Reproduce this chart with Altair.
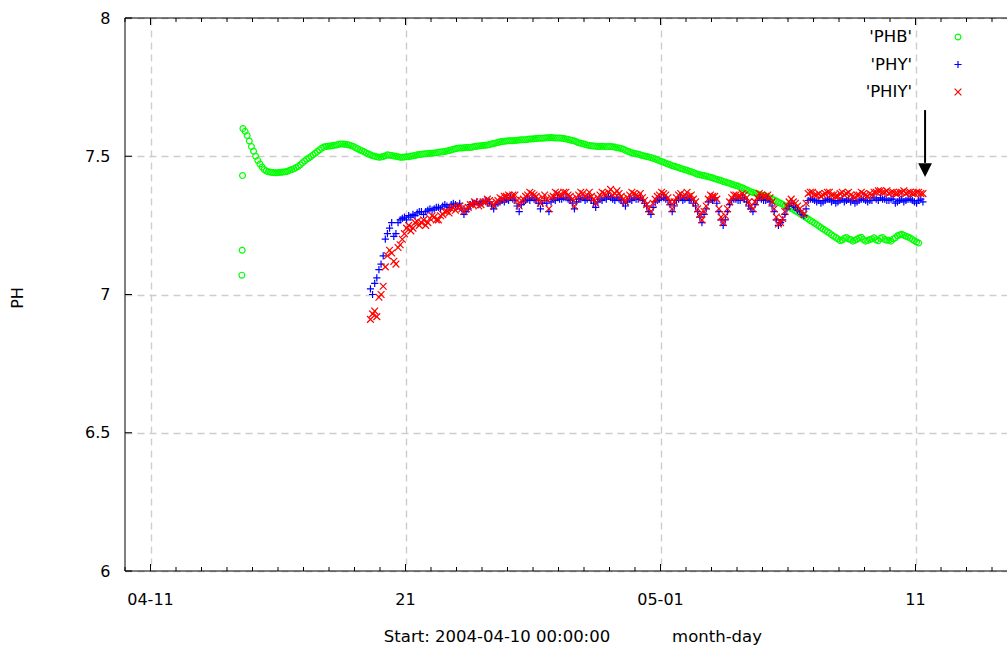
import altair as alt
import pandas as pd

# ---------------- data ----------------
START = pd.Timestamp("2004-04-10 00:00:00")

# PHB start-up readings (hours after START, pH)
phb_start_hours = [110.0, 110.3, 110.6]
phb_start_values = [7.07, 7.16, 7.43]

# PHB regular readings: first reading hour and spacing (hours)
PHB_FIRST_HOUR = 111
PHB_STEP = 2
phb_values = [
    7.60, 7.59, 7.575, 7.555, 7.535, 7.518, 7.50, 7.485, 7.472, 7.461,
    7.452, 7.447, 7.444, 7.442, 7.441, 7.440, 7.440, 7.441, 7.442, 7.443,
    7.444, 7.446, 7.449, 7.452, 7.455, 7.459, 7.463, 7.469, 7.476, 7.483,
    7.489, 7.494, 7.499, 7.505, 7.511, 7.517, 7.523, 7.529, 7.533, 7.535,
    7.536, 7.537, 7.538, 7.540, 7.541, 7.543, 7.544, 7.544, 7.543, 7.542,
    7.541, 7.538, 7.535, 7.531, 7.527, 7.523, 7.520, 7.516, 7.512, 7.508,
    7.505, 7.502, 7.500, 7.498, 7.496, 7.497, 7.499, 7.502, 7.505, 7.504,
    7.503, 7.501, 7.500, 7.498, 7.496, 7.496, 7.497, 7.498, 7.498, 7.500,
    7.502, 7.503, 7.505, 7.506, 7.507, 7.508, 7.509, 7.510, 7.511, 7.511,
    7.512, 7.513, 7.514, 7.515, 7.516, 7.517, 7.519, 7.521, 7.523, 7.525,
    7.527, 7.529, 7.530, 7.530, 7.531, 7.532, 7.532, 7.532, 7.533, 7.535,
    7.536, 7.537, 7.538, 7.539, 7.540, 7.541, 7.542, 7.544, 7.546, 7.548,
    7.550, 7.552, 7.553, 7.554, 7.555, 7.556, 7.556, 7.556, 7.557, 7.558,
    7.559, 7.560, 7.560, 7.560, 7.561, 7.562, 7.562, 7.563, 7.564, 7.565,
    7.565, 7.565, 7.566, 7.567, 7.567, 7.568, 7.567, 7.566, 7.566, 7.566,
    7.565, 7.564, 7.562, 7.561, 7.559, 7.557, 7.555, 7.552, 7.549, 7.547,
    7.545, 7.543, 7.541, 7.539, 7.538, 7.537, 7.536, 7.535, 7.535, 7.536,
    7.535, 7.534, 7.535, 7.535, 7.534, 7.533, 7.531, 7.530, 7.528, 7.525,
    7.522, 7.518, 7.515, 7.513, 7.511, 7.509, 7.507, 7.505, 7.503, 7.501,
    7.499, 7.497, 7.495, 7.493, 7.490, 7.487, 7.484, 7.481, 7.478, 7.475,
    7.472, 7.469, 7.466, 7.464, 7.461, 7.459, 7.456, 7.454, 7.451, 7.449,
    7.446, 7.444, 7.441, 7.438, 7.435, 7.433, 7.431, 7.430, 7.428, 7.426,
    7.424, 7.422, 7.419, 7.417, 7.414, 7.412, 7.409, 7.407, 7.404, 7.402,
    7.399, 7.397, 7.394, 7.392, 7.389, 7.386, 7.382, 7.379, 7.375, 7.372,
    7.369, 7.367, 7.364, 7.362, 7.359, 7.357, 7.354, 7.352, 7.349, 7.346,
    7.342, 7.338, 7.334, 7.330, 7.326, 7.322, 7.318, 7.315, 7.311, 7.307,
    7.302, 7.298, 7.293, 7.288, 7.283, 7.278, 7.273, 7.268, 7.263, 7.258,
    7.253, 7.248, 7.242, 7.237, 7.232, 7.227, 7.222, 7.216, 7.211, 7.206,
    7.201, 7.195, 7.197, 7.203, 7.206, 7.201, 7.199, 7.193, 7.196, 7.200,
    7.204, 7.207, 7.199, 7.193, 7.195, 7.199, 7.201, 7.205, 7.198, 7.194,
    7.203, 7.206, 7.199, 7.196, 7.196, 7.193, 7.201, 7.205, 7.212, 7.215,
    7.218, 7.214, 7.211, 7.208, 7.204, 7.199, 7.194, 7.190, 7.186,
]

# PHY / PHIY readings: first reading hour and spacing (hours)
PHY_FIRST_HOUR = 231
PHY_STEP = 2
phy_values = [
    7.02, 7.00, 7.04, 7.06, 7.09, 7.11, 7.14, 7.20, 7.22, 7.24,
    7.26, 7.21, 7.22, 7.26, 7.27, 7.275, 7.28, 7.27, 7.285, 7.28,
    7.29, 7.285, 7.295, 7.30, 7.30, 7.29, 7.30, 7.305, 7.31, 7.305,
    7.31, 7.315, 7.315, 7.31, 7.32, 7.325, 7.32, 7.315, 7.325, 7.33,
    7.325, 7.32, 7.33, 7.31, 7.29, 7.30, 7.31, 7.325, 7.33, 7.33,
    7.335, 7.325, 7.33, 7.335, 7.34, 7.33, 7.335, 7.32, 7.31, 7.325,
    7.33, 7.335, 7.34, 7.335, 7.345, 7.34, 7.35, 7.345, 7.34, 7.32,
    7.30, 7.325, 7.335, 7.34, 7.345, 7.34, 7.35, 7.345, 7.34, 7.33,
    7.31, 7.33, 7.34, 7.33, 7.30, 7.335, 7.345, 7.34, 7.35, 7.345,
    7.345, 7.35, 7.35, 7.345, 7.34, 7.33, 7.31, 7.335, 7.345, 7.345,
    7.35, 7.34, 7.345, 7.35, 7.34, 7.33, 7.315, 7.335, 7.345, 7.34,
    7.35, 7.345, 7.355, 7.35, 7.345, 7.34, 7.35, 7.345, 7.34, 7.33,
    7.32, 7.335, 7.345, 7.34, 7.35, 7.345, 7.345, 7.35, 7.34, 7.33,
    7.32, 7.30, 7.29, 7.315, 7.335, 7.34, 7.345, 7.35, 7.35, 7.345,
    7.34, 7.325, 7.30, 7.32, 7.34, 7.345, 7.35, 7.34, 7.345, 7.35,
    7.34, 7.345, 7.33, 7.32, 7.30, 7.28, 7.26, 7.29, 7.31, 7.335,
    7.345, 7.34, 7.35, 7.33, 7.30, 7.27, 7.25, 7.27, 7.30, 7.325,
    7.34, 7.345, 7.345, 7.34, 7.34, 7.35, 7.345, 7.335, 7.32, 7.31,
    7.30, 7.325, 7.34, 7.35, 7.345, 7.34, 7.34, 7.345, 7.335, 7.32,
    7.30, 7.27, 7.25, 7.26, 7.27, 7.29, 7.31, 7.32, 7.33, 7.32,
    7.315, 7.305, 7.30, 7.29, 7.285, 7.31, 7.34, 7.345, 7.345, 7.34,
    7.335, 7.34, 7.33, 7.335, 7.34, 7.345, 7.345, 7.335, 7.34, 7.33,
    7.335, 7.34, 7.345, 7.335, 7.34, 7.345, 7.335, 7.34, 7.33, 7.335,
    7.34, 7.345, 7.345, 7.34, 7.335, 7.34, 7.34, 7.35, 7.345, 7.34,
    7.35, 7.345, 7.345, 7.34, 7.34, 7.345, 7.345, 7.33, 7.335, 7.34,
    7.345, 7.335, 7.34, 7.345, 7.345, 7.34, 7.335, 7.33, 7.34, 7.345,
    7.335,
]
phiy_values = [
    6.91, 6.93, 6.94, 6.92, 6.99, 7.00, 7.03, 7.10, 7.14, 7.16,
    7.15, 7.12, 7.11, 7.17, 7.18, 7.20, 7.22, 7.24, 7.25, 7.23,
    7.24, 7.26, 7.265, 7.25, 7.26, 7.27, 7.25, 7.26, 7.275, 7.285,
    7.28, 7.27, 7.27, 7.285, 7.29, 7.30, 7.30, 7.295, 7.31, 7.315,
    7.305, 7.315, 7.32, 7.31, 7.30, 7.31, 7.315, 7.325, 7.325, 7.335,
    7.33, 7.32, 7.325, 7.335, 7.335, 7.345, 7.34, 7.33, 7.32, 7.335,
    7.34, 7.35, 7.345, 7.355, 7.355, 7.36, 7.35, 7.36, 7.36, 7.34,
    7.32, 7.34, 7.345, 7.355, 7.36, 7.37, 7.365, 7.36, 7.355, 7.345,
    7.33, 7.35, 7.36, 7.345, 7.31, 7.35, 7.355, 7.37, 7.365, 7.36,
    7.36, 7.37, 7.37, 7.36, 7.355, 7.345, 7.32, 7.35, 7.36, 7.37,
    7.365, 7.355, 7.36, 7.37, 7.355, 7.345, 7.33, 7.35, 7.36, 7.37,
    7.365, 7.36, 7.37, 7.38, 7.36, 7.365, 7.375, 7.365, 7.355, 7.345,
    7.335, 7.35, 7.36, 7.37, 7.365, 7.36, 7.355, 7.365, 7.35, 7.34,
    7.325, 7.31, 7.30, 7.33, 7.345, 7.355, 7.36, 7.37, 7.365, 7.36,
    7.35, 7.335, 7.31, 7.335, 7.35, 7.36, 7.365, 7.355, 7.36, 7.37,
    7.355, 7.36, 7.345, 7.335, 7.31, 7.29, 7.27, 7.30, 7.32, 7.345,
    7.36, 7.355, 7.355, 7.345, 7.31, 7.28, 7.26, 7.285, 7.31, 7.335,
    7.35, 7.36, 7.36, 7.355, 7.355, 7.365, 7.36, 7.35, 7.335, 7.32,
    7.31, 7.335, 7.35, 7.365, 7.36, 7.355, 7.355, 7.36, 7.35, 7.335,
    7.31, 7.28, 7.255, 7.26, 7.275, 7.30, 7.32, 7.335, 7.345, 7.335,
    7.33, 7.32, 7.31, 7.30, 7.29, 7.33, 7.365, 7.37, 7.37, 7.36,
    7.36, 7.365, 7.355, 7.36, 7.365, 7.37, 7.37, 7.36, 7.36, 7.355,
    7.355, 7.365, 7.37, 7.36, 7.365, 7.37, 7.36, 7.355, 7.35, 7.36,
    7.36, 7.37, 7.365, 7.36, 7.355, 7.365, 7.36, 7.37, 7.37, 7.375,
    7.375, 7.37, 7.37, 7.375, 7.365, 7.37, 7.37, 7.365, 7.365, 7.37,
    7.37, 7.375, 7.365, 7.37, 7.37, 7.365, 7.365, 7.37, 7.37, 7.365,
    7.365,
]

legend_labels = ["'PHB'", "'PHY'", "'PHIY'"]
series_colors = ["#00ff00", "#0000ff", "#ff0000"]

major_tick_dates = ["2004-04-11 00:00:00", "2004-04-21 00:00:00",
                    "2004-05-01 00:00:00", "2004-05-11 00:00:00"]
major_tick_labels = ["04-11", "21", "05-01", "11"]
minor_tick_first = "2004-04-10 00:00:00"
minor_tick_last = "2004-05-14 00:00:00"
y_ticks = [6, 6.5, 7, 7.5, 8]

x_title_left = "Start: 2004-04-10 00:00:00"
x_title_right = "month-day"
y_title = "PH"

arrow_time = "2004-05-11 09:00:00"
arrow_ph_top = 7.667
arrow_ph_base = 7.476
arrow_ph_head = 7.450

# ---------------- frames ----------------
def times(first, step, n):
    return [START + pd.Timedelta(hours=first + step * i) for i in range(n)]

phb_df = pd.DataFrame({
    "time": [START + pd.Timedelta(hours=h) for h in phb_start_hours]
    + times(PHB_FIRST_HOUR, PHB_STEP, len(phb_values)),
    "ph": phb_start_values + phb_values,
})
phy_df = pd.DataFrame({"time": times(PHY_FIRST_HOUR, PHY_STEP, len(phy_values)),
                       "ph": phy_values})
phiy_df = pd.DataFrame({"time": times(PHY_FIRST_HOUR, PHY_STEP, len(phiy_values)),
                        "ph": phiy_values})
major_df = pd.DataFrame({"time": pd.to_datetime(major_tick_dates), "label": major_tick_labels})
minor_df = pd.DataFrame({"time": pd.date_range(minor_tick_first, minor_tick_last, freq="D")})
yt_df = pd.DataFrame({"ph": y_ticks})
one_df = pd.DataFrame({"k": [0]})
arrow_df = pd.DataFrame({"time": [pd.Timestamp(arrow_time)], "top": [arrow_ph_top],
                         "base": [arrow_ph_base], "head": [arrow_ph_head]})

# ---------------- layout ----------------
W, H = 882, 553
FONT = "DejaVu Sans"
GRID = "#cdcdcd"

x_scale = alt.Scale(domain=[alt.DateTime(year=2004, month=4, date=10, hours=0),
                            alt.DateTime(year=2004, month=5, date=14, hours=14, minutes=7)])
y_scale = alt.Scale(domain=[6, 8], nice=False, zero=False)

x_axis = alt.Axis(values=[alt.DateTime(year=2004, month=4, date=11),
                          alt.DateTime(year=2004, month=4, date=21),
                          alt.DateTime(year=2004, month=5, date=1),
                          alt.DateTime(year=2004, month=5, date=11)],
                  labels=False, ticks=False, domain=False, grid=True,
                  gridDash=[7, 5], gridColor=GRID, gridWidth=1.4, title=None)
y_axis = alt.Axis(values=y_ticks, labels=True, ticks=False, domain=False, grid=True,
                  gridDash=[7, 5], gridColor=GRID, gridWidth=1.4, title=None,
                  format="~g", labelFont=FONT, labelFontSize=16, labelColor="black",
                  labelPadding=15)


def X(field="time"):
    return alt.X(f"{field}:T", scale=x_scale, axis=x_axis)


def Y(field="ph"):
    return alt.Y(f"{field}:Q", scale=y_scale, axis=y_axis)


PLUS = "M-1,0L1,0M0,-1L0,1"
CROSS = "M-1,-1L1,1M1,-1L-1,1"
TRI = "M-1,-1L1,-1L0,1Z"

phb = alt.Chart(phb_df).mark_point(shape="circle", filled=False, size=34, strokeWidth=1.2,
                                   color=series_colors[0], opacity=1).encode(x=X(), y=Y())
phy = alt.Chart(phy_df).mark_point(shape=PLUS, filled=False, size=52, strokeWidth=1.2,
                                   color=series_colors[1], opacity=1).encode(x=X(), y=Y())
phiy = alt.Chart(phiy_df).mark_point(shape=CROSS, filled=False, size=46, strokeWidth=1.2,
                                     color=series_colors[2], opacity=1).encode(x=X(), y=Y())

# frame
frame_left = alt.Chart(one_df).mark_rule(color="black", strokeWidth=1).encode(
    x=alt.value(0), y=alt.value(0), y2=alt.value(H))
frame_top = alt.Chart(one_df).mark_rule(color="black", strokeWidth=1).encode(
    x=alt.value(0), x2=alt.value(W), y=alt.value(0))
frame_bottom = alt.Chart(one_df).mark_rule(color="black", strokeWidth=1).encode(
    x=alt.value(0), x2=alt.value(W), y=alt.value(H))

# ticks (inward, mirrored on top)
minor_bot = alt.Chart(minor_df).mark_rule(color="black", strokeWidth=1).encode(
    x=X(), y=alt.value(H - 4), y2=alt.value(H))
minor_top = alt.Chart(minor_df).mark_rule(color="black", strokeWidth=1).encode(
    x=X(), y=alt.value(0), y2=alt.value(4))
major_bot = alt.Chart(major_df).mark_rule(color="black", strokeWidth=1).encode(
    x=X(), y=alt.value(H - 7), y2=alt.value(H))
major_top = alt.Chart(major_df).mark_rule(color="black", strokeWidth=1).encode(
    x=X(), y=alt.value(0), y2=alt.value(7))
y_tick_marks = alt.Chart(yt_df).mark_rule(color="black", strokeWidth=1).encode(
    y=Y(), x=alt.value(0), x2=alt.value(7))

x_labels = alt.Chart(major_df).mark_text(font=FONT, fontSize=16, color="black",
                                          align="center", baseline="alphabetic").encode(
    x=X(), y=alt.value(605 - 18), text="label:N")

title_left = alt.Chart(one_df).mark_text(font=FONT, fontSize=16.5, color="black", align="center",
                                          baseline="alphabetic", text=x_title_left).encode(
    x=alt.value(497 - 125), y=alt.value(642 - 18))
title_right = alt.Chart(one_df).mark_text(font=FONT, fontSize=16.5, color="black", align="center",
                                           baseline="alphabetic", text=x_title_right).encode(
    x=alt.value(717 - 125), y=alt.value(642 - 18))
title_y = alt.Chart(one_df).mark_text(font=FONT, fontSize=16, color="black", align="center",
                                       baseline="middle", angle=270, text=y_title).encode(
    x=alt.value(18 - 125), y=alt.value(298 - 18))

# arrow
arrow_shaft = alt.Chart(arrow_df).mark_rule(color="black", strokeWidth=2).encode(
    x=X(), y=Y("top"), y2="base:Q")
arrow_head = alt.Chart(arrow_df).mark_point(shape=TRI, filled=True, size=190, color="black",
                                            opacity=1, strokeWidth=0).encode(x=X(), y=Y("head"))

# manual legend (text right-aligned, symbol on the right)
legend_rows_y = [37, 64.5, 92]
legend_shapes = ["circle", PLUS, CROSS]
legend_sizes = [34, 52, 46]
legend_layers = []
for lab, col, shp, sz, yy in zip(legend_labels, series_colors, legend_shapes, legend_sizes,
                                 legend_rows_y):
    row = pd.DataFrame({"label": [lab]})
    legend_layers.append(
        alt.Chart(row).mark_text(font=FONT, fontSize=16.5, color="black", align="right",
                                 baseline="middle").encode(
            x=alt.value(912 - 125), y=alt.value(yy - 18), text="label:N"))
    legend_layers.append(
        alt.Chart(row).mark_point(shape=shp, filled=False, size=sz, strokeWidth=1.2, color=col,
                                  opacity=1).encode(x=alt.value(958 - 125), y=alt.value(yy - 18)))

chart = alt.layer(
    phb, phy, phiy,
    frame_left, frame_top, frame_bottom,
    minor_bot, minor_top, major_bot, major_top, y_tick_marks,
    x_labels, title_left, title_right, title_y,
    arrow_shaft, arrow_head,
    *legend_layers,
).properties(
    width=W, height=H,
    autosize=alt.AutoSizeParams(type="none"),
    padding={"left": 125, "top": 18, "right": 0, "bottom": 80},
    background="white",
).configure_view(stroke=None)

chart.save("out.html", embed_options={"renderer": "svg", "actions": False})
